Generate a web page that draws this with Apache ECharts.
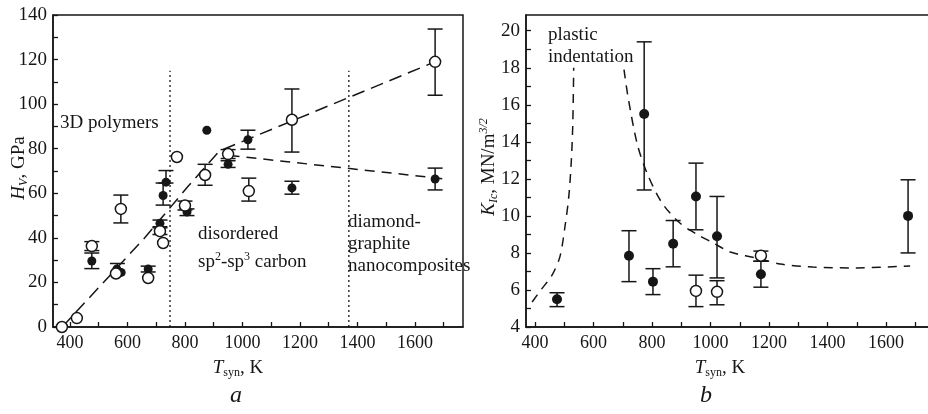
<!DOCTYPE html>
<html>
<head>
<meta charset="utf-8">
<script src="https://cdn.jsdelivr.net/npm/echarts@6/dist/echarts.min.js"></script>
<style>
html, body { margin: 0; padding: 0; background: #fff; }
#main { width: 928px; height: 414px; }
</style>
</head>
<body>
<div id="main"></div>
<script>
// panel a: H_V (GPa) vs T_syn (K)
var hvOpen = [[372, 0], [424, 4], [476, 36.3], [577, 53], [560, 24], [672, 22], [713, 43], [724, 37.7],
    [772, 76.3], [800, 54.5], [870, 68.2], [950, 77.6], [1022, 61], [1172, 93], [1670, 119]];
var hvFilled = [[476, 29.6], [563, 26], [578, 24.5], [672, 26], [713, 46.5], [724, 59], [734, 65],
    [876, 88.3], [807, 51.6], [950, 73], [1019, 84], [1172, 62.4], [1670, 66.4]];
// [T, low, high]
var hvErr = [[476, 26.2, 33.2], [476, 34.3, 38.3], [577, 46.7, 59.2], [565, 23.5, 28.5], [672, 24.7, 27.3],
    [713, 45, 48], [713, 41.5, 44.5], [724, 54.7, 64.6], [734, 64.6, 70.2], [800, 52.5, 56.5], [807, 50, 53],
    [870, 63.6, 73], [950, 75.6, 79.6], [950, 71.6, 74.6], [1019, 79.8, 88.3], [1022, 56.5, 66.8],
    [1172, 78.5, 106.8], [1172, 59.6, 65.4], [1670, 104, 133.7], [1670, 61.5, 71.3]];
var hvFitUp = [[373, 0], [660, 40], [810, 63], [920, 79], [1670, 119]];
var hvFitDown = [[955, 77], [1700, 66.5]];
var border1 = [[748, 0], [748, 115]];
var border2 = [[1370, 0], [1370, 115]];

// panel b: K_Ic vs T_syn
var kFilled = [[475, 5.5], [721, 7.85], [773, 15.5], [803, 6.45], [872, 8.5], [950, 11.05], [1022, 8.9],
    [1172, 6.85], [1675, 10]];
var kOpen = [[950, 5.95], [1022, 5.9], [1172, 7.85]];
var kErr = [[475, 5.1, 5.85], [721, 6.45, 9.2], [773, 11.4, 19.4], [803, 5.75, 7.15], [872, 7.25, 9.75],
    [950, 9.25, 12.85], [950, 5.1, 6.8], [1022, 6.65, 11.05], [1022, 5.2, 6.5], [1172, 7.55, 8.1],
    [1172, 6.15, 7.55], [1675, 8.0, 11.95]];
var plasticLeft = [[390, 5.35], [420, 6.0], [458, 6.8], [485, 7.8], [502, 9.4], [515, 11], [524, 13], [529, 15], [532, 18]];
var plasticRight = [[704, 17.9], [718, 16.4], [749, 13.9], [783, 12.3], [834, 10.7], [896, 9.6], [954, 9.0],
    [1009, 8.54], [1067, 8.05], [1169, 7.68], [1238, 7.4], [1350, 7.24], [1500, 7.19], [1682, 7.3]];

// ticks and labels
var xTicks = [400, 500, 600, 700, 800, 900, 1000, 1100, 1200, 1300, 1400, 1500, 1600, 1700];
var xLabels = [400, 600, 800, 1000, 1200, 1400, 1600];
var hvTicks = [0, 10, 20, 30, 40, 50, 60, 70, 80, 90, 100, 110, 120, 130, 140];
var hvLabels = [0, 20, 40, 60, 80, 100, 120, 140];
var kTicks = [4, 5, 6, 7, 8, 9, 10, 11, 12, 13, 14, 15, 16, 17, 18, 19, 20];
var kLabels = [4, 6, 8, 10, 12, 14, 16, 18, 20];

var ink = '#161616';
var serif = '"Liberation Serif", "DejaVu Serif", serif';

var chart = echarts.init(document.getElementById('main'));

function plain(v) { return String(v); }

function xAxisOf(g, min, max) {
    return {
        gridIndex: g, type: 'value', min: min, max: max,
        axisLine: { show: true, onZero: false, lineStyle: { color: ink, width: 1.5 } },
        axisTick: { show: true, inside: true, length: 5, customValues: xTicks, lineStyle: { color: ink, width: 1.3 } },
        axisLabel: { customValues: xLabels, formatter: plain, color: ink, fontFamily: serif, fontSize: 18, margin: 7 },
        splitLine: { show: false }
    };
}
function yAxisOf(g, min, max, ticks, labels) {
    return {
        gridIndex: g, type: 'value', min: min, max: max,
        axisLine: { show: true, onZero: false, lineStyle: { color: ink, width: 1.5 } },
        axisTick: { show: true, inside: true, length: 5, customValues: ticks, lineStyle: { color: ink, width: 1.3 } },
        axisLabel: { customValues: labels, formatter: plain, color: ink, fontFamily: serif, fontSize: 19, margin: 6 },
        splitLine: { show: false }
    };
}

function errRender(params, api) {
    var x = api.value(0);
    var p1 = api.coord([x, api.value(1)]);
    var p2 = api.coord([x, api.value(2)]);
    var w = 7.5;
    var st = { stroke: ink, lineWidth: 1.5 };
    return {
        type: 'group',
        children: [
            { type: 'line', shape: { x1: p1[0], y1: p1[1], x2: p2[0], y2: p2[1] }, style: st },
            { type: 'line', shape: { x1: p1[0] - w, y1: p1[1], x2: p1[0] + w, y2: p1[1] }, style: st },
            { type: 'line', shape: { x1: p2[0] - w, y1: p2[1], x2: p2[0] + w, y2: p2[1] }, style: st }
        ]
    };
}

function errSeries(i, data) {
    return { type: 'custom', xAxisIndex: i, yAxisIndex: i, data: data, renderItem: errRender,
        encode: { x: 0, y: [1, 2] }, z: 3, silent: true };
}
function dots(i, data, open, size) {
    return { type: 'scatter', xAxisIndex: i, yAxisIndex: i, data: data, symbol: 'circle', symbolSize: size, z: 5,
        itemStyle: open ? { color: '#fff', borderColor: ink, borderWidth: 1.5, opacity: 1 } : { color: ink, opacity: 1 } };
}
function dashLine(i, data, dash, smooth, w) {
    return { type: 'line', xAxisIndex: i, yAxisIndex: i, data: data, symbol: 'none', smooth: smooth, z: 2,
        lineStyle: { color: ink, width: w || 1.5, type: dash } };
}

var sub = { fontFamily: serif, fontSize: 12, lineHeight: 8, verticalAlign: 'bottom', fill: ink, color: ink };
var subI = Object.assign({}, sub, { fontStyle: 'italic' });
var sup = { fontFamily: serif, fontSize: 12, lineHeight: 10, verticalAlign: 'top', fill: ink, color: ink };
var norm = { fontFamily: serif, fontSize: 19, lineHeight: 22, fill: ink, color: ink };
var ital = Object.assign({}, norm, { fontStyle: 'italic' });
var big = Object.assign({}, norm, { fontStyle: 'italic', fontSize: 24, lineHeight: 26 });
var richAll = { n: norm, i: ital, b: big, s: sub, si: subI, p: sup, pi: Object.assign({}, sup, { fontStyle: 'italic' }) };

function label(x, y, text, opts) {
    opts = opts || {};
    return {
        type: 'text', x: x, y: y, rotation: opts.rot || 0, z: 10,
        style: {
            text: text, rich: richAll, fill: ink,
            font: '19px ' + serif,
            align: opts.align || 'left', verticalAlign: 'middle'
        }
    };
}

option = {
    animation: false,
    backgroundColor: '#fff',
    grid: [
        { left: 53, top: 15, right: 465, bottom: 87, show: true, borderColor: ink, borderWidth: 1.5, outerBoundsMode: 'none' },
        { left: 526, top: 15, right: -2, bottom: 87, show: true, borderColor: ink, borderWidth: 1.5, outerBoundsMode: 'none' }
    ],
    xAxis: [xAxisOf(0, 341, 1767), xAxisOf(1, 369, 1750)],
    yAxis: [yAxisOf(0, 0, 140, hvTicks, hvLabels), yAxisOf(1, 4, 20.85, kTicks, kLabels)],
    series: [
        dashLine(0, border1, [2, 3], false, 1.3),
        dashLine(0, border2, [2, 3], false, 1.3),
        dashLine(0, hvFitUp, [13, 7], false),
        dashLine(0, hvFitDown, [10, 7], false),
        errSeries(0, hvErr),
        dots(0, hvFilled, false, 9),
        dots(0, hvOpen, true, 11),
        dashLine(1, plasticLeft, [9, 7], 0.3),
        dashLine(1, plasticRight, [9, 7], 0.3),
        errSeries(1, kErr),
        dots(1, kFilled, false, 10),
        dots(1, kOpen, true, 11)
    ],
    graphic: [
        label(60, 123, '{n|3D polymers}'),
        label(198, 234, '{n|disordered}'),
        label(198, 262, '{n|sp}{p|2}{n|-sp}{p|3}{n| carbon}'),
        label(348, 222, '{n|diamond-}'),
        label(348, 244, '{n|graphite}'),
        label(348, 266, '{n|nanocomposites}'),
        label(548, 35, '{n|plastic}'),
        label(548, 57, '{n|indentation}'),
        label(19, 168, '{i|H}{si|V}{n|, GPa}', { rot: Math.PI / 2, align: 'center' }),
        label(489, 167, '{i|K}{si|Ic}{n|, MN/m}{pi|3/2}', { rot: Math.PI / 2, align: 'center' }),
        label(238, 368, '{i|T}{s|syn}{n|, K}', { align: 'center' }),
        label(720, 368, '{i|T}{s|syn}{n|, K}', { align: 'center' }),
        label(236, 396, '{b|a}', { align: 'center' }),
        label(706, 396, '{b|b}', { align: 'center' })
    ]
};

chart.setOption(option);
</script>
</body>
</html>
